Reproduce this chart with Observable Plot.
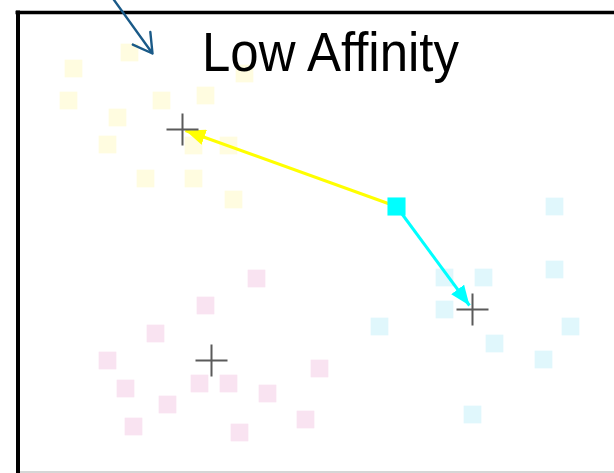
<!DOCTYPE html>
<html><head><meta charset="utf-8">
<script src="https://cdn.jsdelivr.net/npm/d3@7"></script>
<script src="https://cdn.jsdelivr.net/npm/@observablehq/plot@0.6"></script>
<style>html,body{margin:0;padding:0;background:#fff;overflow:hidden}</style>
</head><body><div id="chart"></div>
<script>
// Cluster members (x to the right, y downward)
const yellowX = [73, 129, 244, 68, 161, 205, 117, 107, 193, 228, 145, 193, 233];
const yellowY = [68, 52, 73, 100, 100, 95, 117, 144, 145, 145, 178, 178, 199];
const pinkX = [256, 205, 155, 107, 125, 167, 133, 199, 228, 267, 239, 305, 319];
const pinkY = [278, 305, 333, 360, 388, 404, 426, 383, 383, 393, 432, 419, 368];
const cyanX = [554, 444, 483, 554, 444, 379, 570, 494, 543, 472];
const cyanY = [206, 277, 277, 269, 309, 326, 326, 343, 359, 414];
// Cluster centroids
const centroidX = [182, 211, 472];
const centroidY = [129, 360, 309];
// Query point and its assignment arrows
const queryX = [396];
const queryY = [206];
const arrowTipX = [185, 469];
const arrowTipY = [130, 305];
const arrowColors = ["#ffff00", "#00ffff"];
// Pointer arrow from outside
const pointerX = [111, 152];
const pointerY = [-4, 53];
const titleText = ["Low Affinity"];

const pts = (xs, ys) => xs.map((x, i) => ({x, y: ys[i]}));
const yellow = pts(yellowX, yellowY);
const pink = pts(pinkX, pinkY);
const cyan = pts(cyanX, cyanY);
const centroids = pts(centroidX, centroidY);
const query = pts(queryX, queryY);
const arrows = arrowTipX.map((x, i) => ({x1: queryX[0], y1: queryY[0], x2: x, y2: arrowTipY[i], color: arrowColors[i]}));
const pointer = [{x1: pointerX[0], y1: pointerY[0], x2: pointerX[1], y2: pointerY[1]}];

const plusSymbol = {
  draw(ctx, size) {
    const r = Math.sqrt(size / Math.PI);
    ctx.moveTo(-r, 0); ctx.lineTo(r, 0);
    ctx.moveTo(0, -r); ctx.lineTo(0, r);
  }
};

const plot = Plot.plot({
  width: 614, height: 473, margin: 0,
  x: {domain: [0, 614], axis: null},
  y: {domain: [0, 473], reverse: true, axis: null},
  color: {type: "identity"},
  style: {background: "white", overflow: "hidden"},
  marks: [
    Plot.ruleY([471.5], {x1: 19, x2: 614, stroke: "#c8c8c8", strokeWidth: 1.5}),
    Plot.ruleX([17.5], {y1: 10.5, y2: 473, stroke: "#000", strokeWidth: 4}),
    Plot.ruleY([12], {x1: 15.5, x2: 614, stroke: "#000", strokeWidth: 3.5}),
    Plot.dot(yellow, {x: "x", y: "y", symbol: "square", r: 10, fill: "#fffce0"}),
    Plot.dot(pink, {x: "x", y: "y", symbol: "square", r: 10, fill: "#f9e3f1"}),
    Plot.dot(cyan, {x: "x", y: "y", symbol: "square", r: 10, fill: "#e0f7fc"}),
    Plot.link(arrows, {x1: "x1", y1: "y1", x2: "x2", y2: "y2", stroke: "color", strokeWidth: 3}),
    Plot.dot(query, {x: "x", y: "y", symbol: "square", r: 10.2, fill: "#00ffff"}),
    Plot.dot(centroids, {x: "x", y: "y", symbol: plusSymbol, r: 16, fill: "none", stroke: "#5a5a5a", strokeWidth: 2}),
    Plot.arrow(pointer, {x1: "x1", y1: "y1", x2: "x2", y2: "y2", stroke: "#1a5a88", strokeWidth: 2.4, headLength: 13.5, headAngle: 60}),
    Plot.text(titleText, {x: 330, y: 70, text: d => d, fontSize: 56, fontFamily: "Liberation Sans, Arial, sans-serif", fill: "#000", lineAnchor: "bottom", textAnchor: "middle"})
  ]
});

const svg = d3.select(plot);
const defs = svg.insert("defs", ":first-child");
svg.selectAll('g[aria-label="link"] path').each(function(d, i) {
  const c = this.getAttribute("stroke") || arrowColors[i];
  const id = "arrowhead-" + i;
  defs.append("marker")
    .attr("id", id)
    .attr("viewBox", "0 0 20 16")
    .attr("refX", 20).attr("refY", 8)
    .attr("markerWidth", 20).attr("markerHeight", 16)
    .attr("markerUnits", "userSpaceOnUse")
    .attr("orient", "auto")
    .append("path").attr("d", "M0,0L20,8L0,16Z").attr("fill", c);
  this.setAttribute("marker-end", `url(#${id})`);
});
svg.selectAll('g[aria-label="text"] text')
  .attr("textLength", 257).attr("lengthAdjust", "spacingAndGlyphs");

document.getElementById("chart").appendChild(plot);
</script>
</body></html>
